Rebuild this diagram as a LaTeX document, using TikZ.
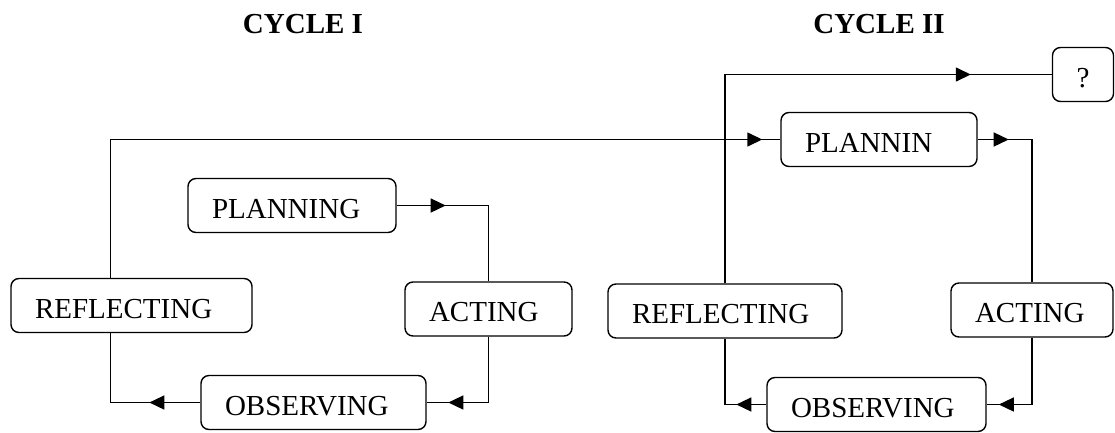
\documentclass[tikz,border=0pt]{standalone}
\usepackage{fontspec}
\setmainfont{Liberation Serif}
\usetikzlibrary{positioning, arrows.meta, decorations.markings}

\begin{document}
\begin{tikzpicture}[x=1pt,y=-1pt,>={Triangle[length=15pt,width=14pt]},
    line width=1.4pt,
    stage node/.style={draw,rounded corners=8pt,align=left,inner xsep=24pt,
      inner ysep=0pt,minimum height=54pt,text height=25pt,text depth=0pt,
      font=\fontsize{29}{34}\selectfont},
    title node/.style={inner sep=0pt,text height=19pt,text depth=0pt,
      font=\fontsize{29}{34}\selectfont\bfseries},
    mid arrow/.style={postaction={decorate},
      decoration={markings,mark=at position #1 with {\arrow{>}}}}]
    \useasboundingbox (0,0) rectangle (1115,432);
    \node[title node] (t1) at (303,24) {CYCLE I};
    \node[title node] (t2) at (879,24) {CYCLE II};
    \node[stage node, text width=160pt] (plan1) at (292,205.5) {PLANNING};
    \node[stage node, text width=119pt] (act1) at (488.5,309) {ACTING};
    \node[stage node, text width=177pt] (obs1) at (313.5,402.5) {OBSERVING};
    \node[stage node, text width=193pt] (refl1) at (131.5,305.5) {REFLECTING};
    \node[stage node, text width=148pt] (plan2) at (879,139.5) {PLANNIN};
    \node[stage node, text width=114pt] (act2) at (1032,310) {ACTING};
    \node[stage node, text width=171pt] (obs2) at (876.5,404.5) {OBSERVING};
    \node[stage node, text width=186pt] (refl2) at (725,311) {REFLECTING};
    \node[stage node, text width=13pt] (q) at (1083,74.5) {?};
    \draw[mid arrow=49pt] (plan1.east) -| (act1.north);
    \draw[mid arrow=106pt] (act1.south) |- (obs1.east);
    \draw[mid arrow=51pt] (obs1.west) -| ([xshift=-21pt]refl1.south);
    \draw[mid arrow=-18pt] ([xshift=-21pt]refl1.north) |- (plan2.west);
    \draw[mid arrow=31pt] (plan2.east) -| (act2.north);
    \draw[mid arrow=100pt] (act2.south) |- (obs2.east);
    \draw[mid arrow=30pt] (obs2.west) -| (refl2.south);
    \draw[mid arrow=-81pt] (refl2.north) |- (q.west);
\end{tikzpicture}
\end{document}
